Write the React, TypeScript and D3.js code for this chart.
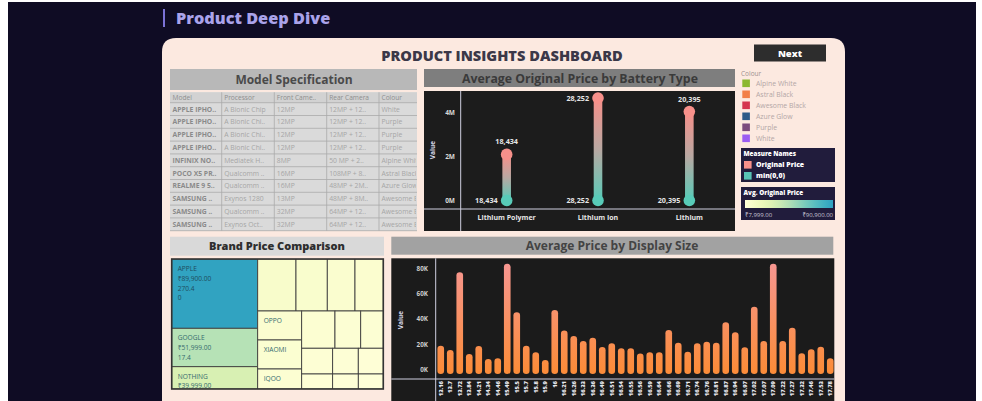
import React from 'react';
import * as d3 from 'd3';

// ---------- DATA ----------
const batteryTypes = ['Lithium Polymer', 'Lithium Ion', 'Lithium'];
const batteryTotals = [2100000, 4670000, 4050000];
const batteryAvg = [18434, 28252, 20395];
const batteryTicks = [0, 2000000, 4000000];

const displaySizes = ['13.16', '13.7', '13.72', '13.84', '14.21', '14.34', '14.46', '15.49', '15.5', '15.7', '15.8', '15.9', '16', '16.21', '16.26', '16.33', '16.36', '16.49', '16.51', '16.54', '16.55', '16.56', '16.59', '16.64', '16.66', '16.69', '16.71', '16.74', '16.76', '16.81', '16.87', '16.94', '16.97', '17.02', '17.07', '17.09', '17.22', '17.27', '17.32', '17.46', '17.53', '17.78'];
const displayAvgPrice = [19100, 15700, 76900, 12600, 18900, 8700, 9200, 83500, 45400, 19100, 13900, 7900, 47200, 31000, 26800, 22800, 25400, 18100, 21000, 17100, 17100, 12900, 13900, 13900, 31500, 21500, 14400, 21000, 22300, 21500, 37500, 29700, 17900, 49800, 22800, 83500, 22800, 33300, 13100, 16300, 18300, 9200];
const displayTicks = [0, 20000, 40000, 60000, 80000];

const colourNames = ['Alpine White', 'Astral Black', 'Awesome Black', 'Azure Glow', 'Purple', 'White'];
const colourSwatches = ['#8ab830', '#f27f48', '#d5354f', '#2e5b88', '#7b4a7e', '#9b5cf2'];
const measureNames = ['Original Price', 'min(0,0)'];

const tableColumns = ['Model', 'Processor', 'Front Came..', 'Rear Camera', 'Colour'];
const tableModels = ['APPLE IPHO..', 'APPLE IPHO..', 'APPLE IPHO..', 'APPLE IPHO..', 'INFINIX NO..', 'POCO X5 PR..', 'REALME 9 5..', 'SAMSUNG ..', 'SAMSUNG ..', 'SAMSUNG ..'];
const tableProcessors = ['A Bionic Chip', 'A Bionic Chi..', 'A Bionic Chi..', 'A Bionic Chi..', 'Mediatek H..', 'Qualcomm ..', 'Qualcomm ..', 'Exynos 1280', 'Qualcomm ..', 'Exynos Oct..'];
const tableFront = ['12MP', '12MP', '12MP', '12MP', '8MP', '16MP', '16MP', '13MP', '32MP', '32MP'];
const tableRear = ['12MP + 12..', '12MP + 12..', '12MP + 12..', '12MP + 12..', '50 MP + 2..', '108MP + 8..', '48MP + 2M..', '48MP + 8M..', '64MP + 12..', '64MP + 12..'];
const tableColours = ['White', 'Purple', 'Purple', 'Purple', 'Alpine White', 'Astral Black', 'Azure Glow', 'Awesome Black', 'Awesome Black', 'Awesome Black'];

const brandNames = ['APPLE', 'GOOGLE', 'NOTHING', 'SAMSUNG', 'ONEPLUS', 'VIVO', 'MOTOROLA', 'OPPO', 'XIAOMI', 'IQOO', 'REALME', 'POCO', 'REDMI', 'INFINIX', 'TECNO', 'NOKIA', 'LAVA', 'HONOR', 'MICROMAX'];
const brandSizes = [5960, 3302, 1918, 1992, 1628, 1440, 1472, 1276, 1276, 880, 1242, 959, 843, 797, 660, 643, 465, 386, 375];
const brandPrices = [89900, 51999, 39999, 16999, 15999, 14999, 14499, 13999, 13499, 12999, 12999, 12499, 11999, 11499, 10999, 10499, 9999, 9499, 8999];
const brandExtra = [['270.4', '0'], ['17.4'], [], [], [], [], [], [], [], [], [], [], [], [], [], [], [], [], []];
const labelledBrands = ['APPLE', 'GOOGLE', 'NOTHING', 'OPPO', 'XIAOMI', 'IQOO'];
const priceRange = [7999, 90900];

// treemap nesting (orientation only)
const treeLayout: any = {
  dir: 'h', children: [
    { dir: 'v', leaves: [0, 1, 2] },
    { dir: 'v', children: [
      { dir: 'h', leaves: [3, 4, 5, 6] },
      { dir: 'h', children: [
        { dir: 'v', leaves: [7, 8, 9] },
        { dir: 'v', children: [
          { dir: 'h', leaves: [10, 11, 12] },
          { dir: 'h', leaves: [13, 14, 15] },
          { dir: 'h', leaves: [16, 17, 18] },
        ] },
      ] },
    ] },
  ],
};

const FONT = '"Open Sans", "Noto Sans", sans-serif';
const rupee = (v: number) => '₹' + d3.format(',.2f')(v);

function buildTree(node: any): any {
  if (node.leaves) {
    return { dir: node.dir, children: node.leaves.map((i: number) => ({ idx: i, name: brandNames[i], value: brandSizes[i] })) };
  }
  return { dir: node.dir, children: node.children.map(buildTree) };
}

export default function App() {
  // Battery chart
  const bX = d3.scalePoint<string>().domain(batteryTypes).range([461, 735]).padding(0.5);
  const bY = d3.scaleLinear().domain([0, 4000000]).range([200.5, 112.7]);
  const fmtM = (v: number) => d3.format('.0f')(v / 1e6) + 'M';

  // Display chart
  const dX = d3.scaleBand<string>().domain(displaySizes).range([436, 835]).paddingInner(0.3).paddingOuter(0.15);
  const dY = d3.scaleLinear().domain([0, 80000]).range([370, 268.3]);
  const bw = dX.bandwidth();

  // Treemap
  const colour = d3.scaleSequential((t: number) => d3.interpolateYlGnBu(Math.pow(t, 1.15) * 0.57)).domain(priceRange);
  const root = d3.hierarchy(buildTree(treeLayout)).sum((d: any) => d.value || 0);
  const tile = (node: any, x0: number, y0: number, x1: number, y1: number) => {
    if (node.data.dir === 'v') d3.treemapSlice(node, x0, y0, x1, y1);
    else d3.treemapDice(node, x0, y0, x1, y1);
  };
  d3.treemap().tile(tile as any).size([211.6, 130]).round(false)(root as any);
  const leaves = root.leaves() as any[];
  const tmX = 171.7, tmY = 259;

  // Table
  const colX = [170, 221.7, 274.3, 326.7, 379, 417];
  const rowTop = 102.7, rowH = 12.8;
  const tableCols = [tableModels, tableProcessors, tableFront, tableRear, tableColours];

  return (
    <svg width={982} height={401} style={{ position: 'absolute', left: 0, top: 0, fontFamily: FONT }}>
      <defs>
        <linearGradient id="batGrad" x1="0" y1="0" x2="0" y2="1">
          <stop offset="0%" stopColor="#f7908a" />
          <stop offset="50%" stopColor="#b9a8a2" />
          <stop offset="100%" stopColor="#58cbb8" />
        </linearGradient>
        <linearGradient id="dispGrad" gradientUnits="userSpaceOnUse" x1="0" y1={dY(82000)} x2="0" y2={dY(0)}>
          <stop offset="0%" stopColor="#f7968f" />
          <stop offset="100%" stopColor="#fb8c3a" />
        </linearGradient>
        <linearGradient id="legGrad" x1="0" y1="0" x2="1" y2="0">
          {d3.range(0, 1.01, 0.1).map((t) => (
            <stop key={t} offset={`${t * 100}%`} stopColor={d3.interpolateYlGnBu(t * 0.57)} />
          ))}
        </linearGradient>
        {tableCols.map((_, c) => (
          <clipPath id={`col${c}`} key={c}>
            <rect x={colX[c]} y={90} width={colX[c + 1] - colX[c] - 1} height={145} />
          </clipPath>
        ))}
        <clipPath id="tmClip">
          <rect x={tmX} y={tmY} width={211.6} height={130} />
        </clipPath>
      </defs>

      {/* page */}
      <rect x={0} y={0} width={982} height={401} fill="#ffffff" />
      <rect x={8} y={2} width={968} height={399} fill="#0f0c24" />
      <rect x={163} y={9} width={2} height={18} fill="#7b72d6" />
      <text x={176} y={24} fontSize={16.3} fontWeight={800} fill="#aaa3ea">Product Deep Dive</text>

      {/* card */}
      <path d="M162,420 L162,52 Q162,38 176,38 L831,38 Q845,38 845,52 L845,420 Z" fill="#fce9e0" />
      <text x={502} y={60.5} fontSize={14.6} fontWeight={800} textAnchor="middle" fill="#3b3848">PRODUCT INSIGHTS DASHBOARD</text>
      <rect x={754} y={44.5} width={72} height={17} fill="#2d2d2d" />
      <text x={790} y={56.5} fontSize={9.5} fontWeight={800} textAnchor="middle" fill="#ffffff">Next</text>

      {/* Model Specification table */}
      <rect x={170} y={69} width={247} height={21} fill="#b8b8b8" />
      <text x={294} y={84} fontSize={12} fontWeight={700} textAnchor="middle" fill="#4a4a4a">Model Specification</text>
      <rect x={170} y={92.3} width={247} height={138.4} fill="#dadada" />
      <rect x={170} y={92.3} width={247} height={10.4} fill="#d2d2d2" />
      {d3.range(11).map((i) => (
        <line key={'rl' + i} x1={170} x2={417} y1={rowTop + i * rowH} y2={rowTop + i * rowH} stroke="#a9a9a9" strokeWidth={0.8} />
      ))}
      {colX.slice(1, 5).map((x, i) => (
        <line key={'cl' + i} x1={x} x2={x} y1={92.3} y2={230.7} stroke="#a9a9a9" strokeWidth={0.8} />
      ))}
      {tableColumns.map((c, i) => (
        <text key={'th' + i} x={colX[i] + 2.5} y={100} fontSize={6.6} fill="#8e8e8e" clipPath={`url(#col${i})`}>{c}</text>
      ))}
      {tableCols.map((col, c) =>
        col.map((v, r) => (
          <text key={`td${c}-${r}`} x={colX[c] + 2.5} y={rowTop + r * rowH + 8.8} fontSize={6.8}
            fontWeight={c === 0 ? 700 : 400} fill={c === 0 ? '#8a8a8a' : '#a6a6a6'} clipPath={`url(#col${c})`}>{v}</text>
        ))
      )}

      {/* Battery chart */}
      <rect x={424} y={69} width={311} height={18} fill="#7e7e7e" />
      <text x={580} y={82.5} fontSize={12.3} fontWeight={700} textAnchor="middle" fill="#3a3a3a">Average Original Price by Battery Type</text>
      <rect x={424} y={91} width={311} height={140} fill="#1c1c1c" />
      <line x1={460.7} x2={460.7} y1={91} y2={231} stroke="#cfcfe0" strokeWidth={1} />
      <line x1={424} x2={735} y1={209} y2={209} stroke="#cfcfe0" strokeWidth={1} />
      <text transform="translate(435,150) rotate(-90)" fontSize={6.5} fontWeight={700} textAnchor="middle" fill="#d8d8e8">Value</text>
      {batteryTicks.map((t) => (
        <text key={'bt' + t} x={455} y={bY(t) + 2.3} fontSize={6.5} fontWeight={700} textAnchor="end" fill="#d8d8d8">{fmtM(t)}</text>
      ))}
      {batteryTypes.map((b, i) => {
        const x = bX(b)!;
        const yTop = bY(batteryTotals[i]);
        const y0 = bY(0);
        const above = yTop - 16 > 91;
        return (
          <g key={b}>
            <rect x={x - 4.3} y={yTop} width={8.6} height={y0 - yTop} fill="url(#batGrad)" />
            <circle cx={x} cy={yTop} r={5.8} fill="#f7908a" />
            <circle cx={x} cy={y0} r={5.8} fill="#58cbb8" />
            {above ? (
              <text x={x} y={yTop - 10} fontSize={7.2} fontWeight={700} textAnchor="middle" fill="#e6e6e6">{d3.format(',')(batteryAvg[i])}</text>
            ) : (
              <text x={x - 9} y={yTop + 2.6} fontSize={7.2} fontWeight={700} textAnchor="end" fill="#e6e6e6">{d3.format(',')(batteryAvg[i])}</text>
            )}
            <text x={x - 9} y={y0 + 2.6} fontSize={7.2} fontWeight={700} textAnchor="end" fill="#e6e6e6">{d3.format(',')(batteryAvg[i])}</text>
            <text x={x} y={219.5} fontSize={7} fontWeight={700} textAnchor="middle" fill="#e6e6e6">{b}</text>
          </g>
        );
      })}

      {/* Legends */}
      <text x={741} y={75.5} fontSize={6.5} fill="#9e9090">Colour</text>
      {colourNames.map((c, i) => (
        <g key={c}>
          <rect x={742.3} y={79.5 + i * 11} width={7.6} height={7.6} fill={colourSwatches[i]} />
          <text x={756} y={85.8 + i * 11} fontSize={6.9} fill="#b3a6a6">{c}</text>
        </g>
      ))}
      <rect x={741} y={148} width={94} height={34} fill="#211c3c" />
      <text x={743.5} y={155.5} fontSize={6.3} fontWeight={800} fill="#ffffff">Measure Names</text>
      {measureNames.map((m, i) => (
        <g key={m}>
          <rect x={744} y={161 + i * 11} width={7.6} height={7.6} fill={i === 0 ? '#f7908a' : '#58c3b4'} />
          <text x={756} y={167.3 + i * 11} fontSize={6.9} fontWeight={800} fill="#ffffff">{m}</text>
        </g>
      ))}
      <rect x={741} y={187} width={94} height={33} fill="#211c3c" />
      <text x={743.5} y={194.5} fontSize={6.3} fontWeight={800} fill="#ffffff">Avg. Original Price</text>
      <rect x={745} y={200} width={88} height={8} fill="url(#legGrad)" />
      <text x={745} y={216.5} fontSize={6} fill="#c9c6d6">{rupee(priceRange[0])}</text>
      <text x={833} y={216.5} fontSize={6} textAnchor="end" fill="#c9c6d6">{rupee(priceRange[1])}</text>

      {/* Treemap */}
      <rect x={170} y={236.7} width={214} height={19} fill="#d9d9d9" />
      <text x={277} y={250} fontSize={11} fontWeight={800} textAnchor="middle" fill="#2e2e2e">Brand Price Comparison</text>
      <g clipPath="url(#tmClip)">
        {leaves.map((l) => {
          const i = l.data.idx;
          const show = labelledBrands.includes(brandNames[i]);
          const lines = show ? [brandNames[i], ...(i < 3 ? [rupee(brandPrices[i])] : []), ...brandExtra[i]] : [];
          return (
            <g key={brandNames[i]}>
              <rect x={tmX + l.x0} y={tmY + l.y0} width={l.x1 - l.x0} height={l.y1 - l.y0}
                fill={colour(brandPrices[i])} stroke="#3e3e3e" strokeWidth={0.9} />
              {lines.map((t, k) => (
                <text key={k} x={tmX + l.x0 + 6} y={tmY + l.y0 + 12 + k * 9.8} fontSize={6.6}
                  fill={i === 0 ? '#1f4d60' : '#356a6e'}>{t}</text>
              ))}
            </g>
          );
        })}
      </g>
      <rect x={tmX} y={tmY} width={211.6} height={130} fill="none" stroke="#333" strokeWidth={1.6} />

      {/* Display size chart */}
      <rect x={391.3} y={236.7} width={442} height={18} fill="#a2a2a2" />
      <text x={612} y={250} fontSize={12} fontWeight={700} textAnchor="middle" fill="#444444">Average Price by Display Size</text>
      <rect x={391.3} y={258.3} width={443} height={145} fill="#1b1b1b" />
      <line x1={435.7} x2={435.7} y1={258.3} y2={401} stroke="#cfcfe0" strokeWidth={1} />
      <line x1={391.3} x2={834.3} y1={379} y2={379} stroke="#cfcfe0" strokeWidth={1} />
      <text transform="translate(403,320) rotate(-90)" fontSize={6.5} fontWeight={700} textAnchor="middle" fill="#d8d8e8">Value</text>
      {displayTicks.map((t) => (
        <text key={'dt' + t} x={428} y={dY(t) + 2.3} fontSize={6.3} fontWeight={700} textAnchor="end" fill="#cfcfcf">{d3.format('.0f')(t / 1000) + 'K'}</text>
      ))}
      {displaySizes.map((s, i) => {
        const x = dX(s)!;
        const yTop = dY(displayAvgPrice[i]);
        return (
          <g key={s}>
            <rect x={x} y={yTop} width={bw} height={dY(0) - yTop + 4} rx={bw / 2} fill="url(#dispGrad)" />
            <text transform={`translate(${x + bw / 2},381) rotate(-90)`} dy="0.35em" fontSize={5.8} fontWeight={800}
              textAnchor="end" fill="#e8e8ee">{s}</text>
          </g>
        );
      })}
    </svg>
  );
}
